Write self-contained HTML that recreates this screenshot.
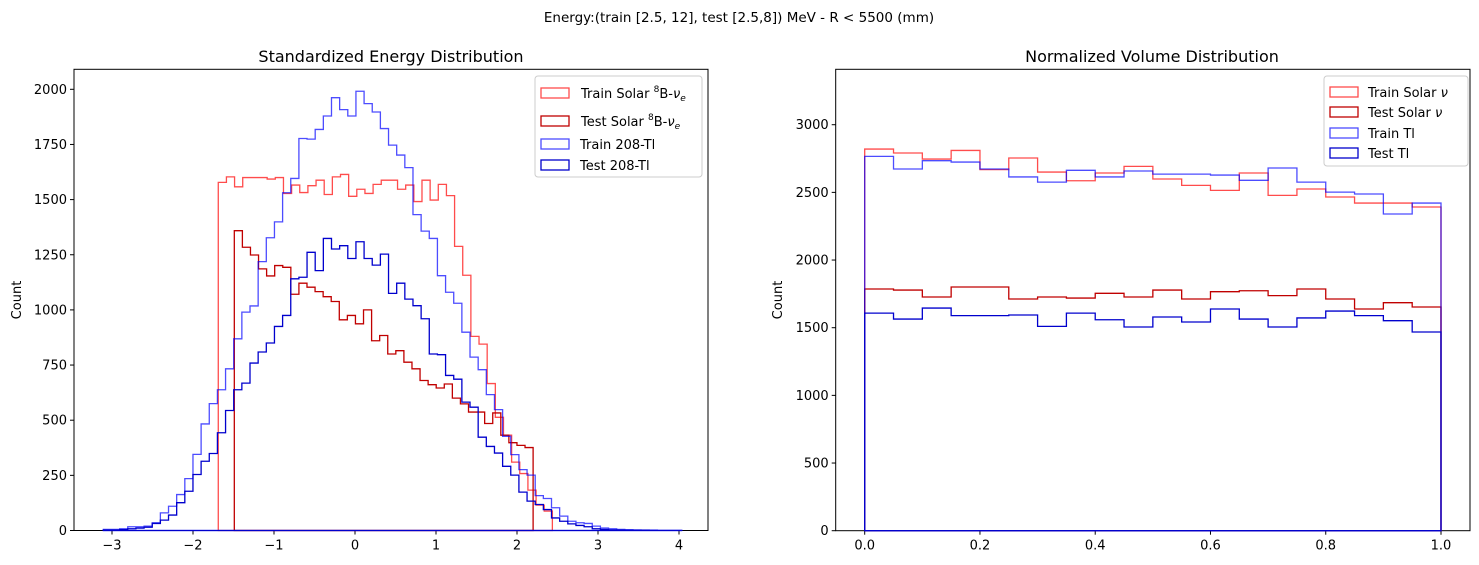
<!DOCTYPE html>
<html><head><meta charset="utf-8"><style>
html,body{margin:0;padding:0;background:#fff;}
svg{display:block;font-family:"DejaVu Sans","Liberation Sans",sans-serif;}
</style></head><body>
<svg id="fig" width="1479" height="565" viewBox="0 0 1479 565" xmlns="http://www.w3.org/2000/svg">
<text x="739" y="22" font-size="13.5" text-anchor="middle">Energy:(train [2.5, 12], test [2.5,8]) MeV - R &lt; 5500 (mm)</text>
<text x="391" y="62" font-size="16" text-anchor="middle">Standardized Energy Distribution</text>
<text x="1152" y="62" font-size="16" text-anchor="middle">Normalized Volume Distribution</text>
<text x="21" y="300" font-size="13" text-anchor="middle" transform="rotate(-90 21 300)">Count</text>
<text x="782" y="300" font-size="13" text-anchor="middle" transform="rotate(-90 782 300)">Count</text>
<g id="L"></g>
<g id="R"></g>
</svg>
<script>
// Left chart data (bin counts)
const trainTlStart = -3.107, trainTlWidth = 0.1006;
const trainTl = [5,5,8,17,17,20,35,80,110,163,235,345,483,575,638,733,869,990,1018,1219,1327,1399,1531,1596,1777,1774,1818,1879,1962,1908,1879,1991,1935,1897,1822,1747,1702,1645,1432,1357,1324,1155,1080,1030,899,786,729,616,548,427,344,276,251,158,145,103,65,42,35,32,20,11,8,5,4,3,2,2,1,1,1];
const testTl = [2,2,4,8,11,15,32,47,70,126,178,254,314,349,443,544,638,668,759,809,850,925,975,1141,1148,1261,1178,1324,1276,1291,1233,1309,1233,1203,1253,1075,1121,1049,1019,960,800,797,703,686,582,559,423,381,351,291,251,174,133,118,95,57,42,30,23,17,8,5,3,2,1,1,1,0,0,0,0];
const trainSolarStart = -1.688, trainSolarWidth = 0.1006;
const trainSolar = [1578,1603,1558,1600,1600,1600,1593,1600,1528,1566,1532,1563,1588,1523,1603,1614,1515,1547,1528,1569,1588,1588,1547,1566,1491,1588,1498,1569,1518,1288,1157,880,845,666,513,432,310,258,183,115,88];
const testSolarStart = -1.490, testSolarWidth = 0.0997;
const testSolar = [1359,1284,1249,1186,1154,1201,1193,1071,1121,1103,1083,1060,1038,955,975,937,1000,860,884,800,815,763,733,680,661,646,664,600,574,537,537,485,533,432,398,386,376];
const leftXTicks = [-3,-2,-1,0,1,2,3,4];
const leftYTicks = [0,250,500,750,1000,1250,1500,1750,2000];
// Right chart data
const volEdgeStart = 0, volWidth = 0.05;
const volTrainSolar = [2820,2791,2746,2810,2668,2754,2650,2586,2643,2692,2599,2552,2515,2643,2478,2525,2466,2421,2421,2392];
const volTrainTl = [2766,2673,2734,2724,2673,2614,2576,2663,2614,2658,2635,2635,2628,2589,2680,2576,2502,2488,2340,2421];
const volTestSolar = [1786,1778,1727,1801,1801,1712,1727,1719,1754,1727,1778,1712,1766,1773,1737,1786,1712,1638,1685,1653];
const volTestTl = [1608,1564,1645,1589,1589,1594,1510,1608,1559,1505,1579,1542,1638,1564,1505,1572,1623,1589,1552,1468];
const rightXTicks = [0,0.2,0.4,0.6,0.8,1.0];
const rightYTicks = [0,500,1000,1500,2000,2500,3000];

const NS='http://www.w3.org/2000/svg';
function mk(tag, attrs, parent){const e=document.createElementNS(NS,tag);for(const k in attrs)e.setAttribute(k,attrs[k]);parent.appendChild(e);return e;}

function axes(g, x0, x1, y0, y1, xs, ys, xt, yt, fmtX){
  const fr = mk('rect',{x:x0,y:y0,width:x1-x0,height:y1-y0,fill:'none',stroke:'#000','stroke-width':1},g);
  
  
  xt.forEach(v=>{
    const x=xs(v);
    const t=mk('line',{x1:x,x2:x,y1:y1,y2:y1+4,stroke:'#000'},g);
    
    
    const l=mk('text',{x:x,y:y1+19,'font-size':13,'text-anchor':'middle'},g);
    
    
    l.textContent=fmtX(v);
  });
  yt.forEach(v=>{
    const y=ys(v);
    const t=mk('line',{x1:x0-4,x2:x0,y1:y,y2:y,stroke:'#000'},g);
    
    
    const l=mk('text',{x:x0-7,y:y+4.5,'font-size':13,'text-anchor':'end'},g);
    
    
    l.textContent=String(v);
  });
}
function hist(g, start, width, vals, xs, ys, color, op, name){
  let d='M'+xs(start)+','+ys(0);
  vals.forEach((c,i)=>{const xa=xs(start+i*width), xb=xs(start+(i+1)*width);d+=' L'+xa+','+ys(c)+' L'+xb+','+ys(c);});
  d+=' L'+xs(start+vals.length*width)+','+ys(0)+' Z';
  const p=mk('path',{d:d,fill:'none',stroke:color,'stroke-opacity':op,'stroke-width':1.3},g);
  
  
}
function legend(g, x, y, w, h, items){
  const b=mk('rect',{x:x,y:y,width:w,height:h,rx:3,fill:'#fff','fill-opacity':0.8,stroke:'#ccc'},g);
  
  
  items.forEach(it=>{
    const r=mk('rect',{x:it.px,y:it.y-5,width:28,height:10,fill:'none',stroke:it.c,'stroke-opacity':it.o,'stroke-width':1.3},g);
    
    
    const t=mk('text',{x:it.tx,y:it.y+5,'font-size':13},g);
    
    
    t.innerHTML=it.label;
  });
}
// Left
const L=document.getElementById('L');
const lx=v=>355+81*v, ly=c=>530.5-0.2206*c;
axes(L,74,708,69.3,530.5,lx,ly,leftXTicks,leftYTicks,v=>v<0?'\u2212'+Math.abs(v):String(v));
hist(L,trainSolarStart,trainSolarWidth,trainSolar,lx,ly,'#ff0000',0.7,'train-solar-hist');
hist(L,testSolarStart,testSolarWidth,testSolar,lx,ly,'#c00000',1,'test-solar-hist');
hist(L,trainTlStart,trainTlWidth,trainTl,lx,ly,'#0000ff',0.7,'train-tl-hist');
hist(L,trainTlStart,trainTlWidth,testTl,lx,ly,'#0000cd',1,'test-tl-hist');
legend(L,535,76,167,101,[
 {px:541,tx:581,y:93,c:'#ff0000',o:0.7,label:'Train Solar <tspan font-size="9" dy="-6">8</tspan><tspan dy="6">B-</tspan><tspan font-style="italic">ν</tspan><tspan font-size="9" font-style="italic" dy="3">e</tspan>'},
 {px:541,tx:581,y:121,c:'#c00000',o:1,label:'Test Solar <tspan font-size="9" dy="-6">8</tspan><tspan dy="6">B-</tspan><tspan font-style="italic">ν</tspan><tspan font-size="9" font-style="italic" dy="3">e</tspan>'},
 {px:541,tx:580,y:144,c:'#0000ff',o:0.7,label:'Train 208-Tl'},
 {px:541,tx:580,y:165,c:'#0000cd',o:1,label:'Test 208-Tl'}
]);
// Right
const R=document.getElementById('R');
const rx=v=>864.7+576.3*v, ry=c=>530.7-0.13533*c;
axes(R,835.7,1470,69.3,530.7,rx,ry,rightXTicks,rightYTicks,v=>v.toFixed(1));
hist(R,volEdgeStart,volWidth,volTrainSolar,rx,ry,'#ff0000',0.7,'vol-train-solar-hist');
hist(R,volEdgeStart,volWidth,volTestSolar,rx,ry,'#c00000',1,'vol-test-solar-hist');
hist(R,volEdgeStart,volWidth,volTrainTl,rx,ry,'#0000ff',0.7,'vol-train-tl-hist');
hist(R,volEdgeStart,volWidth,volTestTl,rx,ry,'#0000cd',1,'vol-test-tl-hist');
legend(R,1324,76,144,90,[
 {px:1330,tx:1368,y:92,c:'#ff0000',o:0.7,label:'Train Solar <tspan font-style="italic">ν</tspan>'},
 {px:1330,tx:1368,y:112,c:'#c00000',o:1,label:'Test Solar <tspan font-style="italic">ν</tspan>'},
 {px:1330,tx:1368,y:133,c:'#0000ff',o:0.7,label:'Train Tl'},
 {px:1330,tx:1368,y:153,c:'#0000cd',o:1,label:'Test Tl'}
]);
</script>
</body></html>
